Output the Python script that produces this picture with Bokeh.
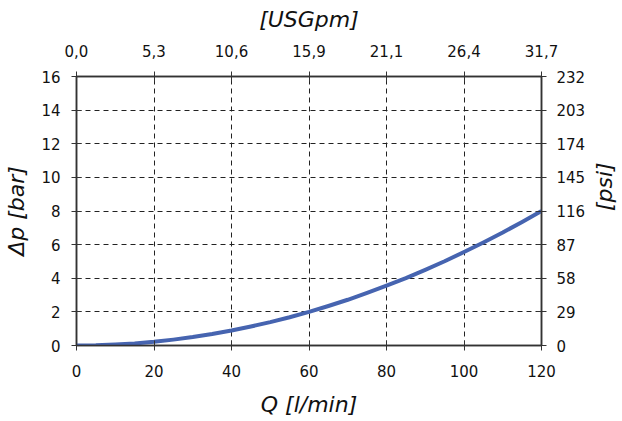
import math
from bokeh.plotting import figure
from bokeh.models import Range1d, LinearAxis, FixedTicker
from bokeh.embed import file_html
from bokeh.resources import INLINE

# Data
flow_lpm = [0, 5, 10, 15, 20, 25, 30, 35, 40, 45, 50, 55, 60,
            65, 70, 75, 80, 85, 90, 95, 100, 105, 110, 115, 120]
dp_bar = [0.0, 0.01, 0.06, 0.12, 0.22, 0.35, 0.5, 0.68, 0.89, 1.13, 1.39, 1.68, 2.0,
          2.35, 2.72, 3.13, 3.56, 4.01, 4.5, 5.01, 5.56, 6.13, 6.72, 7.35, 8.0]

x_ticks = [0, 20, 40, 60, 80, 100, 120]
y_ticks = [0, 2, 4, 6, 8, 10, 12, 14, 16]
usgpm_labels = ["0,0", "5,3", "10,6", "15,9", "21,1", "26,4", "31,7"]
psi_labels = ["0", "29", "58", "87", "116", "145", "174", "203", "232"]

FONT = "DejaVu Sans"
AX = "#333333"

p = figure(frame_width=465, frame_height=269, output_backend="svg", toolbar_location=None,
           x_range=Range1d(0, 120), y_range=Range1d(0, 16),
           min_border_left=76, min_border_right=0, min_border_top=76, min_border_bottom=0)
p.background_fill_color = "white"
p.border_fill_color = "white"
p.outline_line_color = AX
p.outline_line_width = 1.5

def style(ax):
    ax.major_label_text_font = FONT
    ax.major_label_text_font_size = "15px"
    ax.major_label_text_color = "#111111"
    ax.axis_label_text_font = FONT
    ax.axis_label_text_font_size = "22px"
    ax.axis_label_text_font_style = "italic"
    ax.axis_label_text_color = "#111111"
    ax.axis_line_color = AX
    ax.axis_line_width = 1.5
    ax.major_tick_line_color = AX
    ax.major_tick_in = 5
    ax.major_tick_out = 5
    ax.minor_tick_line_color = None

p.xaxis.ticker = FixedTicker(ticks=x_ticks)
p.yaxis.ticker = FixedTicker(ticks=y_ticks)
p.xaxis.axis_label = "Q [l/min]"
p.yaxis.axis_label = "Δp [bar]"
style(p.xaxis[0])
style(p.yaxis[0])
p.xaxis.major_label_standoff = 14
p.xaxis.axis_label_standoff = 12
p.yaxis.major_label_standoff = 11
p.yaxis.axis_label_standoff = 9

top = LinearAxis(ticker=FixedTicker(ticks=x_ticks), axis_label="[USGpm]",
                 major_label_overrides={t: l for t, l in zip(x_ticks, usgpm_labels)})
style(top)
top.major_label_standoff = 15
top.axis_label_standoff = 10
p.add_layout(top, "above")

right = LinearAxis(ticker=FixedTicker(ticks=y_ticks), axis_label="[psi]",
                   major_label_overrides={t: l for t, l in zip(y_ticks, psi_labels)})
style(right)
right.major_label_standoff = 10
right.axis_label_standoff = 16
right.axis_label_orientation = math.pi / 2
p.add_layout(right, "right")

p.xgrid.ticker = FixedTicker(ticks=x_ticks)
p.ygrid.ticker = FixedTicker(ticks=y_ticks)
for g in (p.xgrid[0], p.ygrid[0]):
    g.grid_line_color = "#222222"
    g.grid_line_dash = "5 4"
    g.grid_line_width = 1

p.line(flow_lpm, dp_bar, line_color="#4664B0", line_width=4, line_join="round")

open("out.html", "w").write(file_html(p, INLINE))
